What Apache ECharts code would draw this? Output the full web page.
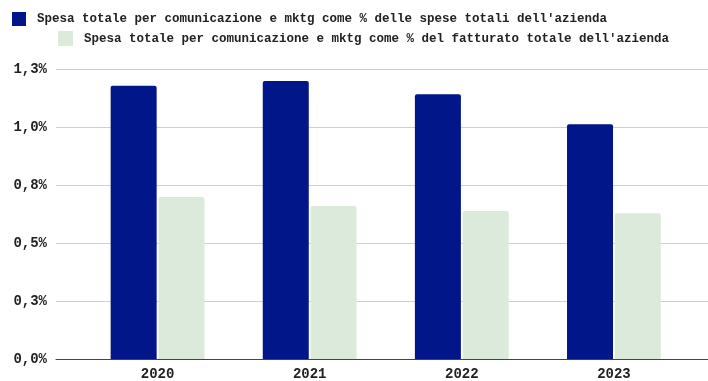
<!DOCTYPE html>
<html>
<head>
<meta charset="utf-8">
<script src="https://cdn.jsdelivr.net/npm/echarts@6/dist/echarts.min.js"></script>
<style>
  html, body { margin: 0; padding: 0; background: #fff; }
  #chart { width: 708px; height: 381px; }
</style>
</head>
<body>
<div id="chart"></div>
<script>
// Categories and values (percent)
const years = ['2020', '2021', '2022', '2023'];
const seriesNames = [
  "Spesa totale per comunicazione e mktg come % delle spese totali dell'azienda",
  "Spesa totale per comunicazione e mktg come % del fatturato totale dell'azienda"
];
const speseTotali = [1.178, 1.198, 1.141, 1.012];
const fatturatoTotale = [0.698, 0.659, 0.638, 0.628];
const tickLabels = ['0,0%', '0,3%', '0,5%', '0,8%', '1,0%', '1,3%'];

const FONT = '"Liberation Mono", "DejaVu Sans Mono", monospace';
const DARK = '#001689';
const LIGHT = '#dceadb';
const Y_MIN = 0, Y_MAX = 1.25, Y_STEP = 0.25;

const chart = echarts.init(document.getElementById('chart'), null, { renderer: 'canvas' });

const legendText = { fontFamily: FONT, fontSize: 12.5, fontWeight: 'bold', color: '#222', padding: [0, 0, 0, 6] };

chart.setOption({
  animation: false,
  backgroundColor: '#fff',
  legend: [
    { data: [seriesNames[0]], left: 12, top: 12, padding: 0, itemWidth: 14, itemHeight: 14, icon: 'rect', textStyle: legendText },
    { data: [seriesNames[1]], left: 58, top: 31, padding: 0, itemWidth: 15, itemHeight: 15, icon: 'rect', textStyle: legendText }
  ],
  grid: [
    // gridlines, y labels and baseline
    { left: 56, right: 0, top: 69, bottom: 22 },
    // bars
    { left: 81.5, right: 18, top: 69, bottom: 22 }
  ],
  xAxis: [
    {
      gridIndex: 0, type: 'value', min: 0, max: 1,
      axisLine: { show: true, lineStyle: { color: '#444', width: 1.2 } },
      axisTick: { show: false }, axisLabel: { show: false }, splitLine: { show: false }
    },
    {
      gridIndex: 1, type: 'category', data: years,
      axisLine: { show: false }, axisTick: { show: false },
      axisLabel: { margin: 8, fontFamily: FONT, fontSize: 14, fontWeight: 'bold', color: '#222' }
    }
  ],
  yAxis: [
    {
      gridIndex: 0, type: 'value', min: Y_MIN, max: Y_MAX, interval: Y_STEP,
      axisLine: { show: false }, axisTick: { show: false },
      axisLabel: {
        margin: 9, fontFamily: FONT, fontSize: 14, fontWeight: 'bold', color: '#222',
        formatter: v => tickLabels[Math.round(v / Y_STEP)]
      },
      splitLine: { lineStyle: { color: '#cfcfcf', width: 1 } }
    },
    {
      gridIndex: 1, type: 'value', min: Y_MIN, max: Y_MAX, interval: Y_STEP,
      show: false, splitLine: { show: false }
    }
  ],
  series: [
    {
      name: seriesNames[0], type: 'bar', xAxisIndex: 1, yAxisIndex: 1,
      data: speseTotali, barWidth: 46, barGap: '4%',
      itemStyle: { color: DARK, borderRadius: [2, 2, 0, 0] }
    },
    {
      name: seriesNames[1], type: 'bar', xAxisIndex: 1, yAxisIndex: 1,
      data: fatturatoTotale, barWidth: 46, barGap: '4%',
      itemStyle: { color: LIGHT, borderRadius: [2, 2, 0, 0] }
    }
  ]
});
</script>
</body>
</html>
